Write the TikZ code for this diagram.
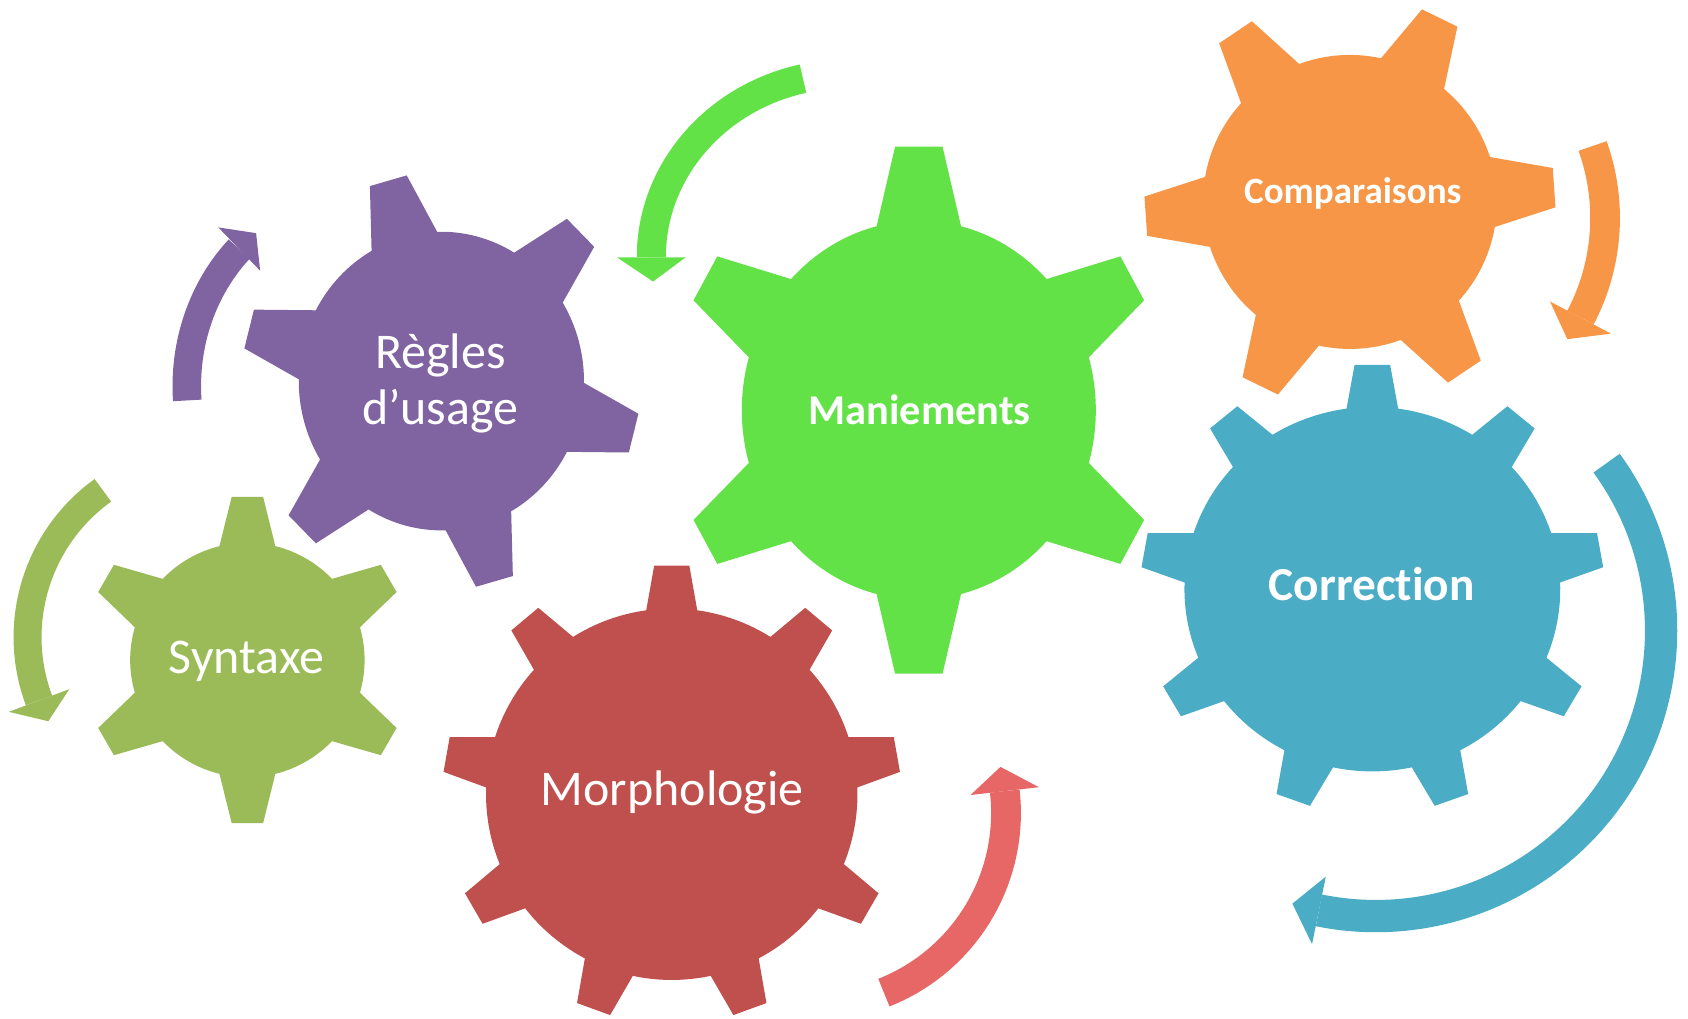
\documentclass[tikz,border=0pt]{standalone}
\usepackage{fontspec}
\setmainfont{Carlito}[Ligatures=NoCommon]
\definecolor{amethyst}{RGB}{128,100,162}
\definecolor{leafgreen}{RGB}{99,226,72}
\definecolor{tangerine}{RGB}{247,150,70}
\definecolor{olivine}{RGB}{155,187,89}
\definecolor{brick}{RGB}{192,80,77}
\definecolor{salmon}{RGB}{230,103,102}
\definecolor{cerulean}{RGB}{75,172,198}
% colour, centre, x radius, y radius, teeth, rotation, root radius, tip half angle, base half angle
\newcommand{\cog}[9]{%
  \fill[#1, shift={#2}, xscale=#3, yscale=#4] ({#6-#9}:#7)
    \foreach \k in {1,...,#5}{
      -- ({#6+(\k-1)*360/#5-#8}:1) -- ({#6+(\k-1)*360/#5+#8}:1) -- ({#6+(\k-1)*360/#5+#9}:#7)
      arc[start angle={#6+(\k-1)*360/#5+#9}, end angle={#6+\k*360/#5-#9}, radius=#7]} -- cycle;}
% colour, centre, x radius, y radius, start, end, band width, head half width, tip angle
\newcommand{\spin}[9]{%
  \draw[#1, line width=#7*0.01cm, shift={#2}] (#5:#3 and #4) arc[start angle=#5, end angle=#6, x radius=#3, y radius=#4];
  \fill[#1, shift={#2}] (#6:{#3+#8} and {#4+#8}) -- (#9:#3 and #4) -- (#6:{#3-#8} and {#4-#8}) -- cycle;}

\begin{document}
\begin{tikzpicture}[x=0.01cm, y=0.01cm,
    cogtext/.style={text=white, align=center, font=\fontsize{13.2}{14.8}\selectfont},
    cogbold/.style={text=white, anchor=base, font=\bfseries\fontsize{#1}{14}\selectfont}]
    \useasboundingbox (0,0) rectangle (1568,946);
    \cog{amethyst}  {(410,592)}     {185.3}{194}  {6}{105.5}{0.715}{5.5}{13.8}
    \cog{leafgreen} {(853.5,565)}   {230}  {246}  {6}{90}   {0.715}{5.5}{13.8}
    \cog{tangerine} {(1254,758.4)}  {191}  {191}  {6}{4}    {0.715}{5.5}{13.8}
    \cog{olivine}   {(229.8,332.9)} {152.3}{152.3}{6}{90}   {0.715}{5.5}{13.8}
    \cog{brick}     {(624,208.2)}   {213}  {213}  {9}{90}   {0.81} {4.4}{7.9}
    \cog{cerulean}  {(1274.8,398.7)}{215.5}{209}  {9}{90}   {0.81} {4.4}{7.9}

    \spin{cerulean} {(1278,360)}    {265}  {265}  {36}   {-101.5}{30}  {32}{-107}
    \spin{leafgreen}{(788,707)}     {183}  {170.5}{103.3}{180}   {27}  {32}{187.6}
    \spin{amethyst} {(333,587.3)}   {159.5}{177}  {184.3}{134}   {26.5}{28}{126.6}
    \spin{olivine}  {(193.6,354.1)} {168}  {168}  {125.7}{200.5} {26}  {30}{207.7}
    \spin{tangerine}{(1292.7,743.5)}{198.3}{198.3}{19.7} {-27.8} {27.6}{32}{-34.6}
    \spin{salmon}   {(755,190.8)}   {179.5}{179.5}{-68.4}{6.5}   {27.7}{32}{13.8}

    \node[cogtext]        (regles)       at (409,590)      {Règles\\d’usage};
    \node[cogtext, anchor=base] (syntaxe)     at (229.1,320.5)  {Syntaxe};
    \node[cogtext, anchor=base] (morphologie) at (624.5,198.2)  {Morphologie};
    \node[cogbold=11.2]   (maniements)   at (854.3,552)    {Maniements};
    \node[cogbold=9.8]    (comparaisons) at (1256.6,756.5) {Comparaisons};
    \node[cogbold=12.5]   (correction)   at (1274.3,388)   {Correction};
\end{tikzpicture}
\end{document}
